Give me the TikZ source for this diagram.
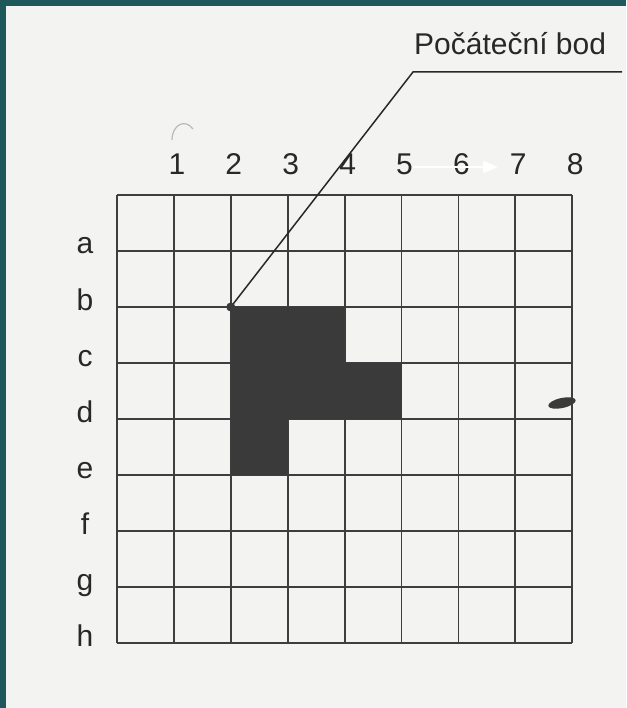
\documentclass[tikz,border=0pt]{standalone}
\usepackage{fontspec}
\setmainfont{Liberation Sans}
\usetikzlibrary{arrows.meta}
\definecolor{teal1}{RGB}{30,88,90}
\definecolor{paper}{RGB}{243,243,242}
\definecolor{ink}{RGB}{62,62,62}
\definecolor{fillgray}{RGB}{58,58,58}
\definecolor{txt}{RGB}{40,40,40}
\begin{document}
\begin{tikzpicture}[x=1pt,y=-1pt,
  gridline/.style={draw=ink, line width=1.8pt},
  collabel/.style={anchor=base, text=txt, font=\fontsize{30}{32}\selectfont, inner sep=0pt},
  rowlabel/.style={anchor=base, text=txt, font=\fontsize{30}{32}\selectfont, inner sep=0pt},
  title/.style={anchor=base west, text=txt, font=\fontsize{30}{32}\selectfont, inner sep=0pt},
  leader/.style={draw=txt, line width=1.5pt},
]
\useasboundingbox (0,0) rectangle (626,708);
% paper and frame strips
\fill[paper] (0,0) rectangle (626,708);
\fill[teal1] (0,0) rectangle (6,708);
\fill[teal1] (0,0) rectangle (626,6);

% grid
\foreach \i in {0,...,8} {
  \draw[gridline] ({117+56.9*\i},195) -- ({117+56.9*\i},643);
  \draw[gridline] (117,{195+56*\i}) -- (572.2,{195+56*\i});
}

% shaded cells
\fill[fillgray] (230.8,307) -- (344.6,307) -- (344.6,363) -- (401.5,363) -- (401.5,419)
  -- (287.7,419) -- (287.7,475) -- (230.8,475) -- cycle;

% column labels
\foreach \n [count=\i] in {1,2,3,4,5,6,7,8} {
  \node[collabel] (c\i) at ({117+56.9*\i+3},175) {\n};
}
% row labels
\foreach \l [count=\j] in {a,b,c,d,e,f,g,h} {
  \node[rowlabel] (r\j) at (85,{195+56*\j+3}) {\l};
}

% leader line and title
\node[title] (lbl) at (414,55) {Počáteční bod};
\coordinate (start) at (230.8,307);
\coordinate (knee) at (413,72);
\coordinate (lend) at (622,72);
\draw[leader] (start) -- (knee) -- (lend);
\fill[fillgray] (start) circle (4.5);

% white arrow (scan artefact)
\coordinate (wa) at (413,167);
\coordinate (wb) at (498,167);
\draw[white, line width=2pt, -{Triangle[length=15pt,width=12pt]}] (wa) -- (wb);

% ink blob and faint arc (scan artefacts)
\fill[fillgray, rotate around={12:(562,403)}] (562,403) ellipse (14 and 5);
\draw[gray!55, line width=1.2pt] (172,140) .. controls (172,125) and (185,118) .. (193,129);
\end{tikzpicture}
\end{document}
